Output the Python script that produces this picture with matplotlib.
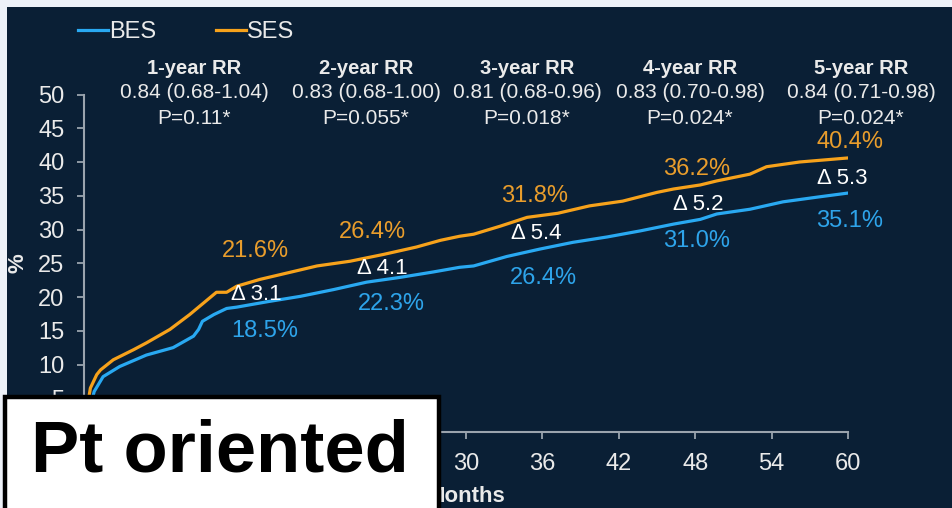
import matplotlib
matplotlib.use("Agg")
import matplotlib.pyplot as plt
from matplotlib.patches import Rectangle

plt.rcParams["font.family"] = ["Liberation Sans", "DejaVu Sans"]

# cumulative event rate (%)
ses_months = [0, 0.2, 0.5, 1.0, 1.3, 2.3, 3.9, 4.9, 6.75, 8.3, 9.7, 10.4, 11.2, 12,
              13.8, 15.6, 18.3, 20.9, 23.5, 26.1, 28, 29.5, 30.6, 32.7, 34.8, 37.2,
              39.7, 42.3, 45, 46.3, 48.4, 49.7, 52.3, 53.6, 56.2, 60]
ses_rate = [0, 3, 6.5, 8.5, 9.2, 10.7, 12.2, 13.2, 15.2, 17.4, 19.6, 20.7, 20.7, 21.6,
            22.6, 23.4, 24.6, 25.3, 26.3, 27.4, 28.4, 29.0, 29.3, 30.5, 31.8, 32.4,
            33.5, 34.2, 35.5, 36.0, 36.6, 37.2, 38.2, 39.3, 40.0, 40.6]

bes_months = [0, 0.4, 0.8, 1.5, 2.8, 4.9, 7, 8.6, 9, 9.3, 10.2, 11.2, 12, 14.4, 17,
              19.6, 22.2, 24.8, 27.4, 29.5, 30.6, 33.2, 35.8, 38.4, 41.1, 43.7, 46.3,
              48.4, 49.7, 52.3, 54.9, 57.6, 60]
bes_rate = [0, 3, 6, 8.2, 9.7, 11.4, 12.5, 14.2, 15.2, 16.4, 17.4, 18.3, 18.5, 19.3, 20.1,
            21.1, 22.2, 22.9, 23.7, 24.4, 24.6, 26.0, 27.1, 28.1, 28.9, 29.8, 30.8,
            31.5, 32.3, 33.0, 34.1, 34.8, 35.4]

rr_titles = ["1-year RR", "2-year RR", "3-year RR", "4-year RR", "5-year RR"]
rr_values = ["0.84 (0.68-1.04)", "0.83 (0.68-1.00)", "0.81 (0.68-0.96)",
             "0.83 (0.70-0.98)", "0.84 (0.71-0.98)"]
rr_pvalues = ["P=0.11*", "P=0.055*", "P=0.018*", "P=0.024*", "P=0.024*"]

ses_labels = ["21.6%", "26.4%", "31.8%", "36.2%", "40.4%"]
bes_labels = ["18.5%", "22.3%", "26.4%", "31.0%", "35.1%"]
delta_labels = ["\u0394 3.1", "\u0394 4.1", "\u0394 5.4", "\u0394 5.2", "\u0394 5.3"]

NAVY = "#0a1f35"
ORANGE = "#f7a21b"
BLUE = "#29a9f2"
ORANGE_TXT = "#e99d2c"
BLUE_TXT = "#2ea4ea"
LIGHT = "#eaeaea"
W, H = 953, 508


def px(x, y):
    # pixel position -> figure fraction
    return x / W, 1 - y / H


fig = plt.figure(figsize=(W / 100, H / 100), dpi=100, facecolor="#eef2f9")
fig.patches.append(Rectangle(px(7, H), 1, 1 - 7 / H, transform=fig.transFigure,
                             facecolor=NAVY, edgecolor="none", zorder=-5))

ax = fig.add_axes([84 / W, 1 - 432 / H, (848 - 84) / W, (432 - 94.5) / H])
ax.set_facecolor("none")
ax.plot(bes_months, bes_rate, color=BLUE, lw=2.3, label="BES")
ax.plot(ses_months, ses_rate, color=ORANGE, lw=2.3, label="SES")
ax.set_xlim(0, 60)
ax.set_ylim(0, 50)
ax.set_xticks(range(0, 61, 6))
ax.set_yticks(range(0, 51, 5))
for s in ["top", "right"]:
    ax.spines[s].set_visible(False)
for s in ["left", "bottom"]:
    ax.spines[s].set_color("#9aa3ad")
    ax.spines[s].set_linewidth(1.5)
ax.tick_params(colors="#9aa3ad", labelcolor=LIGHT, labelsize=17, length=5, width=1.3,
               direction="out")
ax.tick_params(axis="y", pad=9)
ax.tick_params(axis="x", pad=10)
ax.set_xlabel("Months", color=LIGHT, fontsize=16, fontweight="bold", labelpad=8)
ax.set_ylabel("%", color=LIGHT, fontsize=16, fontweight="bold", labelpad=7)

leg = ax.legend(loc="upper left", bbox_to_anchor=px(69, 12), bbox_transform=fig.transFigure,
                ncol=2, frameon=False, fontsize=17, handlelength=1.25, handletextpad=0.05,
                columnspacing=2.55, borderaxespad=0)
for t in leg.get_texts():
    t.set_color(LIGHT)

# risk ratio header
rr_x = [194, 366, 527, 690, 861]
for x, t, v, p in zip(rr_x, rr_titles, rr_values, rr_pvalues):
    fig.text(*px(x, 68), t, color=LIGHT, fontsize=14.5, fontweight="bold", ha="center", va="center")
    fig.text(*px(x, 93), v, color=LIGHT, fontsize=15, ha="center", va="center")
    fig.text(*px(x, 118), p, color=LIGHT, fontsize=15, ha="center", va="center")

# annotations at each year
ses_pos = [(255, 251), (372, 232), (535, 196), (697, 169), (850, 142)]
delta_pos = [(256, 295), (382, 268), (536, 233), (698, 205), (842, 178)]
bes_pos = [(265, 331), (391, 304), (543, 278), (697, 241), (850, 221)]
for lab, (x, y) in zip(ses_labels, ses_pos):
    fig.text(*px(x, y), lab, color=ORANGE_TXT, fontsize=17, ha="center", va="center")
for lab, (x, y) in zip(delta_labels, delta_pos):
    fig.text(*px(x, y), lab, color="white", fontsize=16, ha="center", va="center")
for lab, (x, y) in zip(bes_labels, bes_pos):
    fig.text(*px(x, y), lab, color=BLUE_TXT, fontsize=17, ha="center", va="center")

# "Pt oriented" box
fig.patches.append(Rectangle(px(5, 520), 434 / W, 123 / H, transform=fig.transFigure,
                             facecolor="white", edgecolor="black", linewidth=3.2, zorder=10))
fig.text(*px(220, 453), "Pt oriented", color="black", fontsize=52, fontweight="bold",
         ha="center", va="center", zorder=11)

fig.savefig("out.png", dpi=100, facecolor=fig.get_facecolor())
